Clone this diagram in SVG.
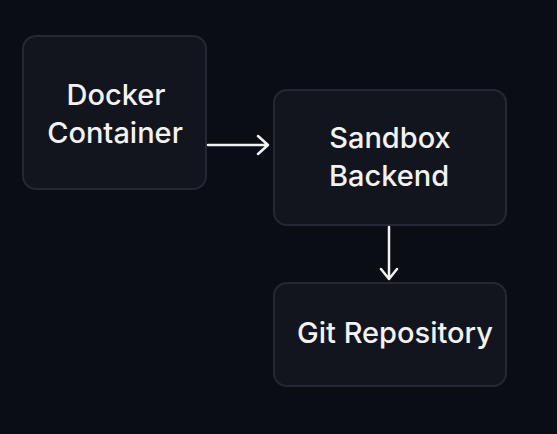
<svg xmlns="http://www.w3.org/2000/svg" width="557" height="434" viewBox="0 0 557 434">
<defs>
<style>
.node{fill:#12151d;stroke:#242833;stroke-width:2}
.lbl{font-family:Inter,"Liberation Sans",sans-serif;font-size:29px;font-weight:500;fill:#f2f2f2;text-anchor:middle}
.edge{stroke:#f2f2f2;stroke-width:2.5;fill:none;stroke-linecap:round;stroke-linejoin:round}
</style>
</defs>
<rect width="557" height="434" fill="#0b0d14"/>
<g id="docker">
<rect class="node" x="23" y="36" width="183" height="153" rx="13"/>
<text class="lbl" x="116" y="105">Docker</text>
<text class="lbl" x="115" y="143">Container</text>
</g>
<g id="sandbox">
<rect class="node" x="274" y="90" width="232" height="135" rx="13"/>
<text class="lbl" x="390" y="148">Sandbox</text>
<text class="lbl" x="389" y="186">Backend</text>
</g>
<g id="git">
<rect class="node" x="274" y="283" width="232" height="103" rx="13"/>
<text class="lbl" x="395" y="343">Git Repository</text>
</g>
<g id="connectors">
<path class="edge" d="M208 145H268M258 136L268 145L258 154"/>
<path class="edge" d="M389 227V279M381 269L389 279L397 269"/>
</g>
</svg>
